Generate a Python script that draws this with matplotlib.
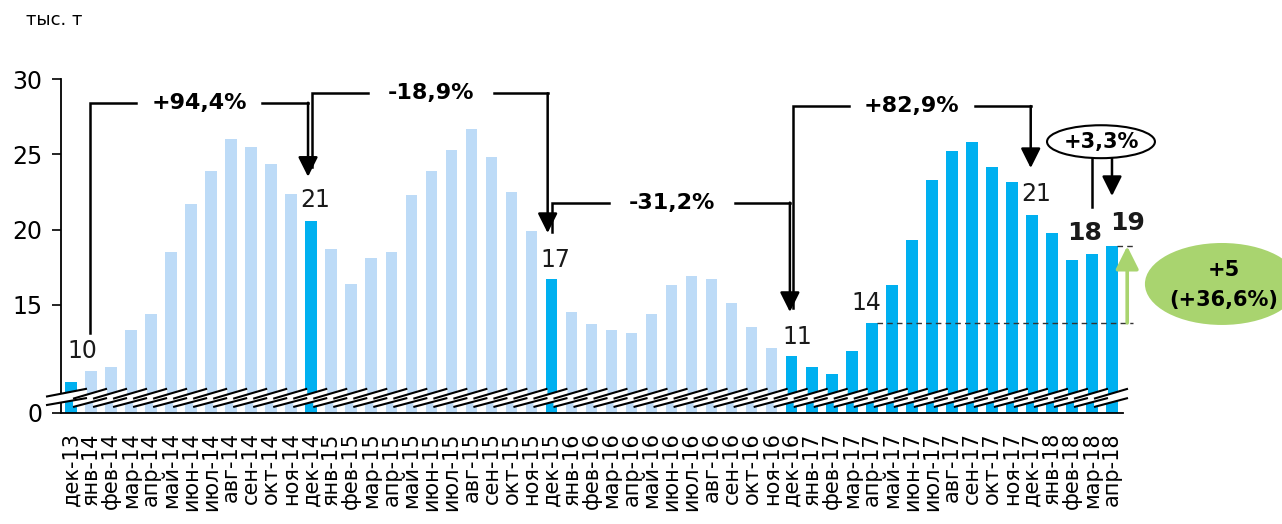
import matplotlib
matplotlib.use("Agg")
import matplotlib.pyplot as plt
from matplotlib.patches import Ellipse, Polygon
import numpy as np

plt.rcParams['font.family'] = ['DejaVu Sans']

# ---------------- data ----------------
months = ['дек-13',
          'янв-14', 'фев-14', 'мар-14', 'апр-14', 'май-14', 'июн-14', 'июл-14', 'авг-14', 'сен-14', 'окт-14', 'ноя-14', 'дек-14',
          'янв-15', 'фев-15', 'мар-15', 'апр-15', 'май-15', 'июн-15', 'июл-15', 'авг-15', 'сен-15', 'окт-15', 'ноя-15', 'дек-15',
          'янв-16', 'фев-16', 'мар-16', 'апр-16', 'май-16', 'июн-16', 'июл-16', 'авг-16', 'сен-16', 'окт-16', 'ноя-16', 'дек-16',
          'янв-17', 'фев-17', 'мар-17', 'апр-17', 'май-17', 'июн-17', 'июл-17', 'авг-17', 'сен-17', 'окт-17', 'ноя-17', 'дек-17',
          'янв-18', 'фев-18', 'мар-18', 'апр-18']
values = [9.9,
          10.6, 10.9, 13.3, 14.4, 18.5, 21.7, 23.9, 26.0, 25.5, 24.4, 22.4, 20.6,
          18.7, 16.4, 18.1, 18.5, 22.3, 23.9, 25.3, 26.7, 24.8, 22.5, 19.9, 16.7,
          14.5, 13.7, 13.3, 13.1, 14.4, 16.3, 16.9, 16.7, 15.1, 13.5, 12.1, 11.6,
          10.9, 10.4, 11.9, 13.8, 16.3, 19.3, 23.3, 25.2, 25.8, 24.2, 23.2, 21.0,
          19.8, 18.0, 18.4, 18.9]
highlight = [0, 12, 24] + list(range(36, 53))

# labelled bars: index, text, bold
label_idx = [0, 12, 24, 36, 40, 48, 51, 52]
label_txt = ['10', '21', '17', '11', '14', '21', '18', '19']
label_bold = [False, False, False, False, False, False, True, True]
label_off = [(8, 22), (3, 15), (3, 14), (4, 14), (-4, 14), (3, 15), (-5, 15), (11, 17)]

changes = ['+94,4%', '-18,9%', '-31,2%', '+82,9%']

# ---------------- figure ----------------
W, H = 1282, 524
fig = plt.figure(figsize=(W / 100, H / 100), dpi=100)
Y0 = 7.83
ax = fig.add_axes([61 / W, 1 - 412.7 / H, (1123 - 61) / W, (412.7 - 79.3) / H])

BRIGHT = '#00B0F0'
LIGHT = '#BDDBF7'
x = np.arange(len(values))
colors = [BRIGHT if i in highlight else LIGHT for i in range(len(values))]
ax.bar(x, values, width=0.58, color=colors, zorder=2)

ax.set_xlim(-0.5, 52.55)
ax.set_ylim(Y0, 30)
ax.set_yticks([Y0, 15, 20, 25, 30])
ax.set_yticklabels(['0', '15', '20', '25', '30'])
ax.set_xticks(x)
ax.set_xticklabels(months, rotation=90)
for s in ['top', 'right']:
    ax.spines[s].set_visible(False)
for s in ['left', 'bottom']:
    ax.spines[s].set_linewidth(1.3)
ax.tick_params(axis='y', direction='out', length=6.5, width=1.2, labelsize=17, pad=7)
ax.tick_params(axis='x', length=0, labelsize=15, pad=14)

# axis break pieces
pxx = 1 / 20.02
pxy = 1 / 15.04
for i in range(len(values)):
    left = -18 if i > 0 else -25
    xl, xr = i + left * pxx, i + 16 * pxx
    y_tl = Y0 + (412.7 - 398.7) * pxy
    y_tr = Y0 + (412.7 - 388.7) * pxy
    y_bl = Y0 + (412.7 - 407.0) * pxy
    y_br = Y0 + (412.7 - 398.0) * pxy
    if i == 0:
        y_tl += 7 * 10 / 34 * pxy
        y_bl += 7 * 9 / 34 * pxy
    poly = Polygon([(xl, y_tl), (xr, y_tr), (xr, y_br), (xl, y_bl)], closed=True,
                   facecolor='white', edgecolor='none', zorder=4, clip_on=False)
    ax.add_patch(poly)
    ax.plot([xl, xr], [y_tl, y_tr], color='black', lw=1.5, zorder=5, clip_on=False,
            solid_capstyle='butt')
    ax.plot([xl, xr], [y_bl, y_br], color='black', lw=1.5, zorder=5, clip_on=False,
            solid_capstyle='butt')

# data labels
for idx, t, b, (dx, dy) in zip(label_idx, label_txt, label_bold, label_off):
    ax.annotate(t, xy=(idx, values[idx]), xytext=(dx, dy), textcoords='offset points',
                ha='center', va='center', fontsize=18 if b else 17,
                fontweight='bold' if b else 'normal', color='#1a1a1a', zorder=6)

# brackets
def arrow(x0, y0, x1, y1, color='black', lw=1.8, hl=0.6, hw=0.3, ms=20):
    ax.annotate('', xy=(x1, y1), xytext=(x0, y0),
                arrowprops=dict(arrowstyle='-|>,head_length=%s,head_width=%s' % (hl, hw),
                                color=color, lw=lw, shrinkA=0, shrinkB=0, mutation_scale=ms),
                annotation_clip=False, zorder=7)

brackets = [
    (0.95, 13.14, 28.44, 11.84, 23.52, 6.39),
    (12.03, 24.2, 29.07, 23.81, 19.78, 17.98),
    (24.01, 19.85, 21.80, 35.91, 14.53, 30.0),
    (36.08, 14.8, 28.22, 47.94, 24.1, 42.0),
]
g = 3.15
for (xs, ys, yt, xe, ytip, xt), txt in zip(brackets, changes):
    ax.plot([xs, xs, xt - g], [ys, yt, yt], color='black', lw=1.8, zorder=7,
            clip_on=False, solid_joinstyle='miter')
    ax.plot([xt + g, xe], [yt, yt], color='black', lw=1.8, zorder=7, clip_on=False)
    arrow(xe, yt, xe, ytip)
    ax.text(xt, yt, txt, ha='center', va='center', fontsize=16, fontweight='bold', zorder=8)

# +3,3% ellipse
ax.add_patch(Ellipse((51.45, 25.85), 5.39, 2.19, facecolor='white', edgecolor='black',
                     lw=1.5, clip_on=False, zorder=8))
ax.text(51.45, 25.85, '+3,3%', ha='center', va='center', fontsize=15, fontweight='bold', zorder=9)
ax.plot([51, 51], [24.75, 21.53], color='black', lw=1.8, clip_on=False, zorder=7)
arrow(52, 24.75, 52, 22.24)

# dashed reference lines
ax.plot([40.24, 53.05], [values[40], values[40]], color='#333333', lw=1.0,
        dashes=(4, 3), clip_on=False, zorder=6)
ax.plot([52.25, 53.05], [values[52], values[52]], color='#333333', lw=1.0,
        dashes=(4, 3), clip_on=False, zorder=6)

# green arrow and ellipse
GREEN = '#A9D46F'
arrow(52.76, values[40], 52.76, values[52], color=GREEN, lw=2.6, hl=0.7, hw=0.35)
ax.add_patch(Ellipse((57.49, 16.39), 7.69, 5.45, facecolor=GREEN, edgecolor='none',
                     clip_on=False, zorder=8))
ax.text(57.59, 17.32, '+5', ha='center', va='center', fontsize=15, fontweight='bold', zorder=9)
ax.text(57.59, 15.33, '(+36,6%)', ha='center', va='center', fontsize=15, fontweight='bold', zorder=9)

fig.text(26 / W, 1 - 20 / H, 'тыс. т', fontsize=13, ha='left', va='center')

fig.savefig('out.png', dpi=100)
